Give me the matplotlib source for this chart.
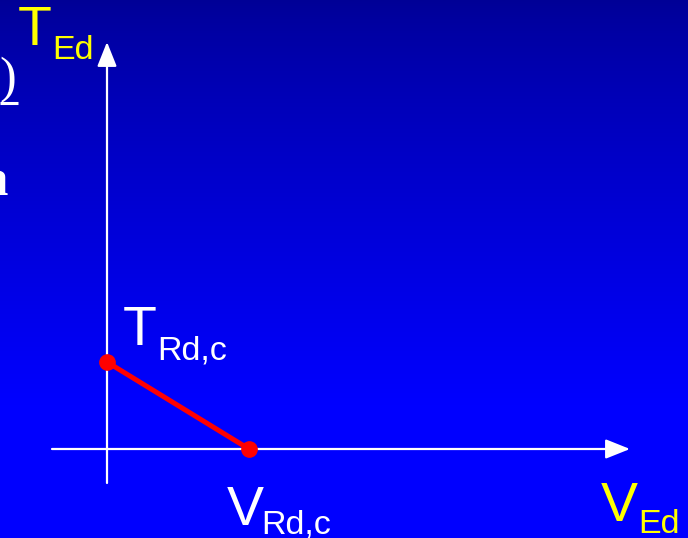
import numpy as np
import matplotlib.pyplot as plt

# interaction diagram T_Ed - V_Ed (units: arbitrary, 1 unit = 1 px)
v_pts = [0, 142]      # V_Ed values of the two end points
t_pts = [87, 0]       # T_Ed values of the two end points
x_axis = [-55, 523]   # extent of the V_Ed axis
y_axis = [-34, 407]   # extent of the T_Ed axis

plt.rcParams['font.family'] = ['Liberation Sans', 'DejaVu Sans']

fig = plt.figure(figsize=(6.88, 5.38), dpi=100)
ax = fig.add_axes([0, 0, 1, 1])
ax.set_xlim(-107, 581)
ax.set_ylim(-89, 449)
ax.axis('off')

# blue gradient background
rows = np.linspace(0, 1, 256)
top = np.array([0, 0, 150]) / 255
bot = np.array([0, 0, 255]) / 255
t = np.clip(rows / 0.75, 0, 1) ** 0.8
grad = top[None, :] * (1 - t[:, None]) + bot[None, :] * t[:, None]
ax.imshow(grad[:, None, :], extent=[-107, 581, -89, 449], aspect='auto',
          origin='upper', zorder=0)

# axes with arrows
ax.annotate('', xy=(x_axis[1], 0), xytext=(x_axis[0], 0),
            arrowprops=dict(arrowstyle='-|>,head_length=0.75,head_width=0.3',
                            color='white', lw=1.6, mutation_scale=20,
                            shrinkA=0, shrinkB=0), zorder=2)
ax.annotate('', xy=(0, y_axis[1]), xytext=(0, y_axis[0]),
            arrowprops=dict(arrowstyle='-|>,head_length=0.75,head_width=0.3',
                            color='white', lw=1.6, mutation_scale=20,
                            shrinkA=0, shrinkB=0), zorder=2)

# interaction line
ax.plot(v_pts, t_pts, color='#ff0000', lw=3.6, marker='o', ms=11,
        solid_capstyle='round', zorder=3, clip_on=False)

yellow = '#ffff00'
ax.text(-89, 404, 'T', color=yellow, fontsize=40, va='baseline')
ax.text(-55, 390, 'Ed', color=yellow, fontsize=24.5, va='baseline')
ax.text(16, 104, 'T', color='white', fontsize=40, va='baseline')
ax.text(50, 90, 'Rd,c', color='white', fontsize=24.5, va='baseline')
ax.text(120, -76, 'V', color='white', fontsize=40, va='baseline')
ax.text(154, -84, 'Rd,c', color='white', fontsize=24.5, va='baseline')
ax.text(494, -72, 'V', color=yellow, fontsize=40, va='baseline')
ax.text(531, -84, 'Ed', color=yellow, fontsize=24.5, va='baseline')

# slide text cut off at the left edge
ax.text(-91, 357, ')', color='white', fontsize=36, ha='right', va='baseline',
        family='Liberation Serif', zorder=4)
ax.plot([-107, -89], [346, 346], color='white', lw=2.2, zorder=5,
        solid_capstyle='butt')
ax.text(-99, 254, 'a', color='white', fontsize=38, ha='right', va='baseline',
        family='Liberation Serif', fontweight='bold', zorder=4)

fig.savefig('out.png', dpi=100)
